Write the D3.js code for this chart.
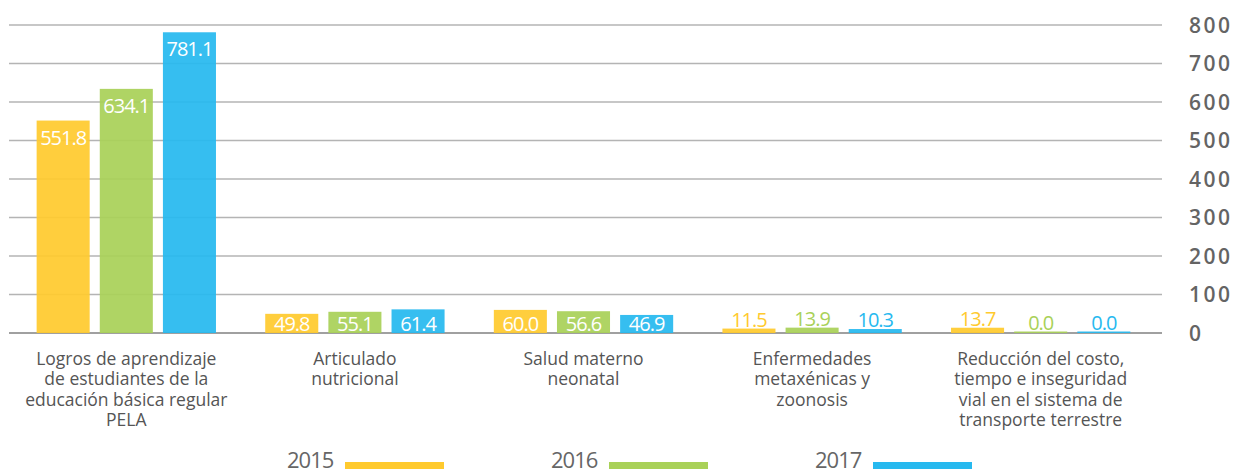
<!DOCTYPE html>
<html>
<head>
<meta charset="utf-8">
<script src="https://cdn.jsdelivr.net/npm/d3@7"></script>
<style>
	body { margin: 0; background: #fff; }
	svg { display: block; }
	.grid line { stroke: #b4b4b4; stroke-width: 1.5; }
	.axis-label { font-family: "Open Sans", sans-serif; font-weight: 600; font-size: 21px; fill: #646464; letter-spacing: 2.5px; }
	.value { font-family: "Open Sans", sans-serif; font-weight: 400; font-size: 20px; letter-spacing: -1px; }
	.category { font-family: "Open Sans", sans-serif; font-size: 17.5px; fill: #555; }
	.legend text { font-family: "Open Sans", sans-serif; font-size: 22px; fill: #666; letter-spacing: -1px; }
</style>
</head>
<body>
<div class="container"></div>
<script>
const categories = [
	["Logros de aprendizaje", "de estudiantes de la", "educación básica regular", "PELA"],
	["Articulado", "nutricional"],
	["Salud materno", "neonatal"],
	["Enfermedades", "metaxénicas y", "zoonosis"],
	["Reducción del costo,", "tiempo e inseguridad", "vial en el sistema de", "transporte terrestre"]
];
const years = ["2015", "2016", "2017"];
const values2015 = [551.8, 49.8, 60.0, 11.5, 13.7];
const values2016 = [634.1, 55.1, 56.6, 13.9, 0.0];
const values2017 = [781.1, 61.4, 46.9, 10.3, 0.0];
const yTicks = [0, 100, 200, 300, 400, 500, 600, 700, 800];
const colors = ["#ffca2e", "#a9d158", "#27b9ef"];

const width = 1245, height = 473;
const series = [values2015, values2016, values2017];

const svg = d3.select(".container")
	.append("svg")
		.attr("width", width)
		.attr("height", height);

const y = d3.scaleLinear().domain([0, 800]).range([333, 25]);

const x0 = d3.scaleBand()
	.domain(d3.range(categories.length))
	.range([12, 1155]);

const x1 = d3.scaleBand()
	.domain(years)
	.range([0, x0.bandwidth()])
	.paddingInner(0.16)
	.paddingOuter(0.39);

const color = d3.scaleOrdinal().domain(years).range(colors);

// grid
svg.append("g")
	.attr("class", "grid")
	.selectAll("line")
	.data(yTicks)
		.enter()
	.append("line")
		.attr("x1", 9)
		.attr("x2", 1162)
		.attr("y1", (d) => y(d))
		.attr("y2", (d) => y(d))
		.style("stroke", (d) => d === 0 ? "#a0a0a0" : null)
		.style("stroke-width", (d) => d === 0 ? 2 : null);

svg.append("g")
	.selectAll("text")
	.data(yTicks)
		.enter()
	.append("text")
		.attr("class", "axis-label")
		.attr("x", 1189)
		.attr("y", (d) => y(d))
		.attr("dy", "0.36em")
		.text((d) => d);

// bars
const rows = [];
categories.forEach((c, i) => {
	years.forEach((yr, j) => rows.push({ cat: i, year: yr, value: series[j][i] }));
});

const bars = svg.append("g")
	.selectAll("g.bar")
	.data(rows)
		.enter()
	.append("g")
		.attr("class", "bar")
		.attr("transform", (d) => `translate(${ x0(d.cat) + x1(d.year) }, 0)`);

const barTop = (d) => Math.min(y(d.value), y(0) - 1.5);

bars.append("rect")
	.attr("y", barTop)
	.attr("width", x1.bandwidth())
	.attr("height", (d) => y(0) - barTop(d))
	.attr("fill", (d) => color(d.year))
	.attr("opacity", 0.93);

bars.append("text")
	.attr("class", "value")
	.attr("x", x1.bandwidth() / 2)
	.attr("text-anchor", "middle")
	.attr("y", (d) => d.value < 30 ? barTop(d) - 2 : Math.min(barTop(d) + 24, 331))
	.attr("fill", (d) => d.value < 30 ? color(d.year) : "#fff")
	.text((d) => d.value.toFixed(1));

// category labels
svg.append("g")
	.selectAll("text")
	.data(categories)
		.enter()
	.append("text")
		.attr("class", "category")
		.attr("text-anchor", "middle")
		.attr("transform", (d, i) => `translate(${ x0(i) + x0.bandwidth() / 2 }, 365)`)
		.selectAll("tspan")
		.data((d) => d)
			.enter()
		.append("tspan")
			.attr("x", 0)
			.attr("y", (d, i) => i * 20.4)
			.text((d) => d);

// legend
const legend = svg.append("g")
	.attr("class", "legend")
	.selectAll("g")
	.data(years)
		.enter()
	.append("g")
		.attr("transform", (d, i) => `translate(${ 287 + i * 264 }, 0)`);

legend.append("text")
	.attr("y", 468)
	.text((d) => d);

legend.append("rect")
	.attr("x", 58)
	.attr("y", 462)
	.attr("width", 99)
	.attr("height", 7)
	.attr("fill", (d) => color(d));
</script>
</body>
</html>
